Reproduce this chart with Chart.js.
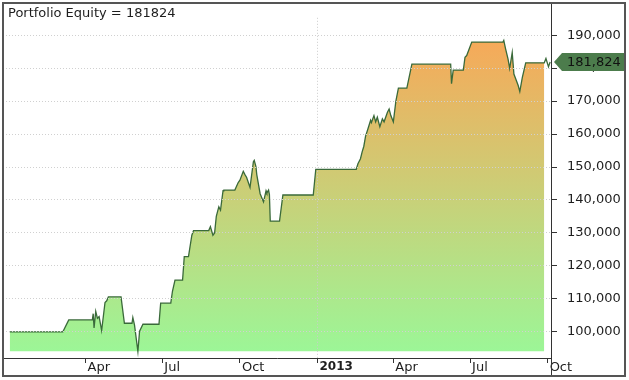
<!DOCTYPE html>
<html>
<head>
<meta charset="utf-8">
<script src="https://cdn.jsdelivr.net/npm/chart.js@4.4.1/dist/chart.umd.min.js"></script>
<style>
    html, body { margin: 0; padding: 0; background: #fff; }
</style>
</head>
<body>
<canvas id="grafico" width="629" height="380"></canvas>
<script>
// pontos (data, patrimonio)
const datas = [
    '2012-01-02', '2012-03-05', '2012-03-12', '2012-04-09', '2012-04-10', '2012-04-11', '2012-04-13',
    '2012-04-15', '2012-04-17', '2012-04-20', '2012-04-24', '2012-04-26', '2012-04-28', '2012-05-13',
    '2012-05-17', '2012-05-26', '2012-05-27', '2012-05-29', '2012-06-02', '2012-06-04', '2012-06-08',
    '2012-06-27', '2012-06-29', '2012-07-11', '2012-07-13', '2012-07-16', '2012-07-25', '2012-07-27',
    '2012-08-01', '2012-08-05', '2012-08-07', '2012-08-25', '2012-08-27', '2012-08-30', '2012-09-01',
    '2012-09-03', '2012-09-05', '2012-09-06', '2012-09-08', '2012-09-11', '2012-09-12', '2012-09-25',
    '2012-09-29', '2012-10-01', '2012-10-05', '2012-10-07', '2012-10-09', '2012-10-11', '2012-10-13',
    '2012-10-17', '2012-10-18', '2012-10-20', '2012-10-21', '2012-10-25', '2012-10-29', '2012-11-01',
    '2012-11-02', '2012-11-04', '2012-11-05', '2012-11-06', '2012-11-17', '2012-11-21', '2012-12-27',
    '2012-12-30', '2013-02-16', '2013-02-18', '2013-02-21', '2013-02-23', '2013-02-25', '2013-02-27',
    '2013-03-02', '2013-03-05', '2013-03-06', '2013-03-09', '2013-03-11', '2013-03-13', '2013-03-16',
    '2013-03-19', '2013-03-21', '2013-03-25', '2013-03-27', '2013-03-29', '2013-04-01', '2013-04-04',
    '2013-04-07', '2013-04-17', '2013-04-23', '2013-06-08', '2013-06-09', '2013-06-11', '2013-06-23',
    '2013-06-25', '2013-06-27', '2013-07-03', '2013-08-09', '2013-08-10', '2013-08-12', '2013-08-15',
    '2013-08-17', '2013-08-20', '2013-08-22', '2013-08-27', '2013-08-29', '2013-09-01', '2013-09-05',
    '2013-09-27', '2013-09-29', '2013-10-02', '2013-10-04'
];
const patrimonio = [
    100000, 100000, 103600, 103600, 105500, 101200, 106200,
    104100, 104600, 100400, 108900, 109400, 110600, 110600,
    102600, 102600, 104300, 102000, 94000, 100200, 102300,
    102300, 108700, 108700, 112300, 115700, 115700, 122800,
    122800, 129300, 130700, 130700, 131900, 129300, 130000,
    135000, 137000, 137900, 136900, 142800, 143000, 143000,
    145300, 146000, 148700, 147700, 146800, 145300, 143800,
    151600, 152000, 150100, 147700, 141900, 139400, 142800,
    142100, 143000, 141600, 133600, 133600, 141500, 141500,
    149300, 149300, 151000, 152500, 154600, 156300, 159300,
    161700, 164200, 163500, 165600, 163700, 165100, 162200,
    164600, 163700, 166600, 167600, 165600, 163700, 170000,
    173900, 173900, 181200, 181200, 175300, 179400, 179400,
    183300, 183800, 187900, 187900, 188400, 186000, 182800,
    179900, 184700, 178200, 174800, 172900, 177200, 181600,
    181600, 182900, 180400, 181824
];
const fimPreenchimento = '2013-09-27';
const baseDoPreenchimento = 94100;

const datasTicks = ['2012-04-01', '2012-07-01', '2012-10-01', '2013-01-01', '2013-04-01', '2013-07-01', '2013-10-01'];
const rotulosTicks = ['Apr', 'Jul', 'Oct', '2013', 'Apr', 'Jul', 'Oct'];
const valoresTicksY = [100000, 110000, 120000, 130000, 140000, 150000, 160000, 170000, 180000, 190000];

const fonte = { family: 'DejaVu Sans', size: 13 };
const fonteAno = { family: 'DejaVu Sans', size: 12, weight: 'bold' };

function diaDaData(texto) {
    const [a, m, d] = texto.split('-').map(Number);
    return (Date.UTC(a, m - 1, d) - Date.UTC(2012, 0, 1)) / 86400000;
}

function gradienteEquity(context) {
    const { chart } = context;
    if (!chart.chartArea) return null;
    const y = chart.scales.y;
    const g = chart.ctx.createLinearGradient(0, y.getPixelForValue(190000), 0, y.getPixelForValue(baseDoPreenchimento));
    g.addColorStop(0, '#f8a858');
    g.addColorStop(1, '#9cf697');
    return g;
}

const ultimoValor = patrimonio[patrimonio.length - 1];

const molduraPlugin = {
    id: 'moldura',
    afterDraw(chart) {
        const { ctx, chartArea, scales } = chart;
        ctx.save();
        ctx.setLineDash([]);

        // linhas dos eixos
        const xEixo = Math.round(scales.y.left) + 0.5;
        const yEixo = Math.round(chartArea.bottom) + 0.5;
        ctx.strokeStyle = '#333';
        ctx.lineWidth = 1;
        ctx.beginPath();
        ctx.moveTo(xEixo, 3);
        ctx.lineTo(xEixo, 376);
        ctx.moveTo(3, yEixo);
        ctx.lineTo(xEixo, yEixo);
        ctx.stroke();

        // titulo
        ctx.font = '13px "DejaVu Sans"';
        ctx.fillStyle = '#1e1e1e';
        ctx.textBaseline = 'alphabetic';
        ctx.textAlign = 'left';
        ctx.fillText('Portfolio Equity = ' + ultimoValor, 8, 17);

        // etiqueta do ultimo valor
        const yv = scales.y.getPixelForValue(ultimoValor);
        ctx.fillStyle = '#4c7c4c';
        ctx.beginPath();
        ctx.moveTo(554, yv);
        ctx.lineTo(562, yv - 9);
        ctx.lineTo(625, yv - 9);
        ctx.lineTo(625, yv + 9);
        ctx.lineTo(562, yv + 9);
        ctx.closePath();
        ctx.fill();
        ctx.fillStyle = '#111';
        ctx.textBaseline = 'middle';
        ctx.fillText(ultimoValor.toLocaleString('en-US'), 567, yv + 1);

        // moldura
        ctx.strokeStyle = '#555';
        ctx.lineWidth = 2;
        ctx.strokeRect(3, 3, 622, 373);
        ctx.restore();
    }
};

const pontos = datas.map((d, i) => ({ x: diaDaData(d), y: patrimonio[i] }));
const pontosPreenchidos = pontos.slice(0, datas.indexOf(fimPreenchimento) + 1);

let data = {
    datasets: [
        {
            label: 'Portfolio Equity',
            data: pontos,
            borderColor: '#3a6a3a',
            borderWidth: 1.3,
            fill: false
        },
        {
            label: 'preenchimento',
            data: pontosPreenchidos,
            borderColor: 'rgba(0,0,0,0)',
            borderWidth: 0,
            backgroundColor: gradienteEquity,
            fill: { value: baseDoPreenchimento }
        }
    ]
};

let options = {
    responsive: false,
    animation: false,
    layout: { padding: { left: 3, top: 3, right: 4, bottom: 4 } },
    elements: { point: { radius: 0 }, line: { tension: 0 } },
    plugins: {
        legend: { display: false },
        tooltip: { enabled: false }
    },
    scales: {
        x: {
            type: 'linear',
            min: -7,
            max: 643,
            afterBuildTicks: (scale) => { scale.ticks = datasTicks.map((d) => ({ value: diaDaData(d) })); },
            afterFit: (scale) => { scale.height = 18; },
            ticks: {
                autoSkip: false,
                maxRotation: 0,
                align: 'start',
                padding: -3,
                labelOffset: 2,
                color: '#1e1e1e',
                callback: (v, i) => rotulosTicks[i],
                font: (ctx) => (ctx.tick && rotulosTicks[ctx.index] === '2013') ? fonteAno : fonte
            },
            grid: {
                z: 1,
                color: (ctx) => (ctx.tick && rotulosTicks[ctx.index] === '2013') ? '#cccccc' : 'rgba(0,0,0,0)',
                tickColor: '#333',
                tickLength: 5
            },
            border: { display: false, dash: [1, 2] }
        },
        y: {
            position: 'right',
            min: 92060,
            max: 195260,
            afterBuildTicks: (scale) => { scale.ticks = valoresTicksY.map((v) => ({ value: v })); },
            afterFit: (scale) => { scale.width = 74; },
            ticks: {
                padding: 10,
                color: '#1e1e1e',
                font: fonte,
                callback: (v) => v.toLocaleString('en-US')
            },
            grid: {
                z: 1,
                color: '#d0d0d0',
                tickColor: '#333',
                tickLength: 6
            },
            border: { display: false, dash: [1, 2] }
        }
    }
};

new Chart(document.getElementById('grafico'), { type: 'line', data, options, plugins: [molduraPlugin] });
</script>
</body>
</html>
